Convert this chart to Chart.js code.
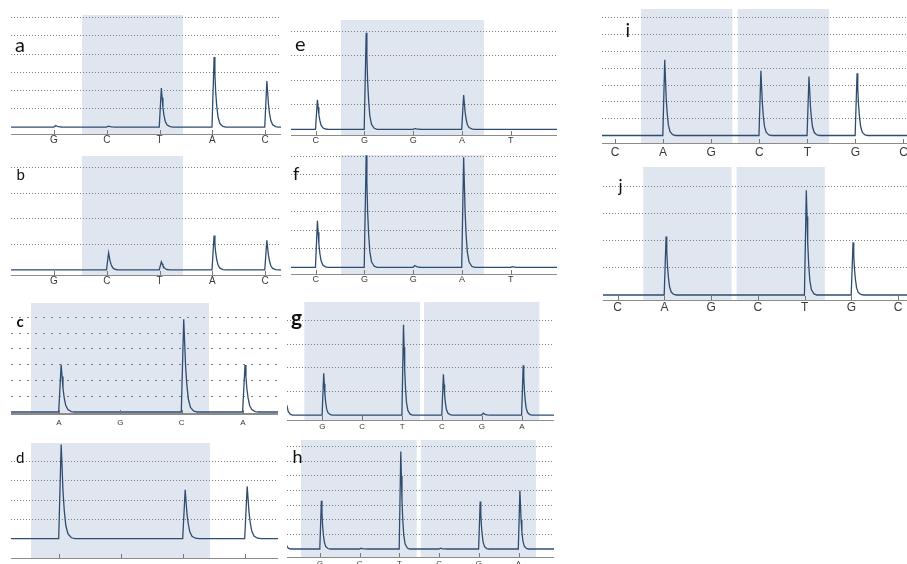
<!DOCTYPE html>
<html lang="en">
<head>
  <meta charset="UTF-8">
  <title>Pyrograms a-j</title>
  <script src="https://cdn.jsdelivr.net/npm/chart.js"></script>
  <style>
    html, body { margin: 0; padding: 0; background: #fff; width: 907px; height: 564px; overflow: hidden; }
    #fig { position: relative; width: 907px; height: 564px; overflow: hidden; }
    #fig canvas { position: absolute; }
    .tag { position: absolute; font-family: Lato, sans-serif; color: #111; line-height: 1; }
  </style>
</head>
<body>
  <div id="fig"></div>

  <script>
    // dispensation order, peak heights (grid units) and shaded spans (in base positions)
    const basesA = ['G', 'C', 'T', 'A', 'C'];
    const peaksA = [0.08, 0.05, 2.14, 3.85, 2.53];
    const shadeA = [[0.53, 2.445]];

    const basesB = ['G', 'C', 'T', 'A', 'C'];
    const peaksB = [0, 0.67, 0.32, 1.35, 1.16];
    const shadeB = [[0.53, 2.445]];

    const basesC = ['A', 'G', 'C', 'A'];
    const peaksC = [3.0, 0, 5.87, 2.97];
    const shadeC = [[-0.457, 2.447]];

    const basesD = ['A', 'G', 'C', 'A'];
    const peaksD = [4.88, 0, 2.54, 2.71];
    const shadeD = [[-0.45, 2.435]];

    const basesE = ['C', 'G', 'G', 'A', 'T'];
    const peaksE = [1.2, 3.94, 0.03, 1.4, 0];
    const shadeE = [[0.519, 3.45]];

    const basesF = ['C', 'G', 'G', 'A', 'T'];
    const peaksF = [2.52, 6.05, 0.1, 5.95, 0.03];
    const shadeF = [[0.519, 3.45]];

    const basesG = ['G', 'C', 'T', 'C', 'G', 'A'];
    const peaksG = [1.77, 0, 3.83, 1.73, 0.08, 2.11];
    const prevG = 3.0;
    const shadeG = [[-0.451, 2.449], [2.549, 5.44]];

    const basesH = ['G', 'C', 'T', 'C', 'G', 'A'];
    const peaksH = [3.29, 0.05, 6.66, 0.05, 3.24, 3.97];
    const prevH = 6.0;
    const shadeH = [[-0.479, 2.436], [2.537, 5.44]];

    const basesI = ['C', 'A', 'G', 'C', 'T', 'G', 'C'];
    const peaksI = [0, 4.5, 0, 3.85, 3.5, 3.7, 0];
    const shadeI = [[0.541, 2.441], [2.554, 4.454]];

    const basesJ = ['C', 'A', 'G', 'C', 'T', 'G', 'C'];
    const peaksJ = [0, 2.16, 0, 0, 3.86, 1.94, 0];
    const shadeJ = [[0.547, 2.437], [2.544, 4.432]];

    // shape of one pyrogram peak: [offset in base positions, fraction of height]
    const peakShape = [[-0.005, 0], [0.035, 1], [0.05, 0.75], [0.065, 0.5], [0.085, 0.3],
                       [0.11, 0.14], [0.145, 0.05], [0.2, 0.01], [0.26, 0]];

    const panels = [
      { tag: 'a', bases: basesA, peaks: peaksA, shade: shadeA, box: [11, 281, 15, 134], x: [-0.815, 4.303], y: [-0.38, 6.15], fs: 10, pad: 0, tagPos: [15, 34, 20, false] },
      { tag: 'b', bases: basesB, peaks: peaksB, shade: shadeB, box: [11, 281, 156, 275], x: [-0.815, 4.303], y: [-0.2, 4.47], fs: 10, pad: 0, tagPos: [16.5, 167, 15, false] },
      { tag: 'c', bases: basesC, peaks: peaksC, shade: shadeC, box: [11, 278, 303, 414], x: [-0.783, 3.573], y: [-0.127, 6.9], fs: 8, pad: 4, tagPos: [16.5, 314, 15, true], dash: [2, 6], axisW: 2 },
      { tag: 'd', bases: basesD, peaks: peaksD, shade: shadeD, box: [11, 278, 443, 558], x: [-0.774, 3.532], y: [-1.0, 4.96], fs: 8, pad: 4, tagPos: [16, 450, 15, false] },
      { tag: 'e', bases: basesE, peaks: peaksE, shade: shadeE, box: [291, 557, 20, 135], x: [-0.507, 4.95], y: [-0.233, 4.46], fs: 9, pad: 0, tagPos: [295, 33, 20, false] },
      { tag: 'f', bases: basesF, peaks: peaksF, shade: shadeF, box: [291, 557, 155, 274], x: [-0.507, 4.95], y: [-0.36, 6.07], fs: 9, pad: 0.5, tagPos: [293, 164, 18, false] },
      { tag: 'g', bases: basesG, peaks: peaksG, prev: prevG, shade: shadeG, box: [287, 554, 302, 420], x: [-0.885, 5.807], y: [-0.21, 4.79], fs: 8, pad: 2, tagPos: [291, 305.7, 21, true] },
      { tag: 'h', bases: basesH, peaks: peaksH, prev: prevH, shade: shadeH, box: [287, 554, 440, 557], x: [-0.831, 5.894], y: [-0.546, 7.44], fs: 8, pad: 2, tagPos: [292.5, 447.3, 18, false] },
      { tag: 'i', bases: basesI, peaks: peaksI, shade: shadeI, box: [602, 915, 9, 143], x: [-0.27, 6.24], y: [-0.446, 7.52], fs: 12, pad: 2, tagPos: [625.5, 20.4, 19, false] },
      { tag: 'j', bases: basesJ, peaks: peaksJ, shade: shadeJ, box: [603, 915, 167, 300], x: [-0.314, 6.36], y: [-0.185, 4.72], fs: 12, pad: 0, tagPos: [618.5, 176.6, 17, false] }
    ];

    const XH = 24;

    function tracePoints(p) {
      const pts = [{ x: p.x[0] - 1.5, y: 0 }];
      const addPeak = (pos, h) => peakShape.forEach(([dx, f]) => pts.push({ x: pos + dx, y: h * f }));
      if (p.prev) addPeak(-1, p.prev);
      p.peaks.forEach((h, i) => { if (h) addPeak(i, h); });
      pts.push({ x: p.x[1] + 1, y: 0 });
      return pts;
    }

    const shadePlugin = {
      id: 'shade',
      beforeDraw(chart, args, opts) {
        const { ctx, chartArea: a, scales: { x } } = chart;
        ctx.save();
        ctx.fillStyle = '#e0e6ef';
        opts.spans.forEach(([s, e]) => {
          const x0 = x.getPixelForValue(s), x1 = x.getPixelForValue(e);
          ctx.fillRect(x0, a.top, x1 - x0, a.bottom - a.top);
        });
        ctx.restore();
      },
      afterDraw(chart) {
        const { ctx, chartArea: a, scales: { x } } = chart;
        ctx.save();
        ctx.strokeStyle = '#777';
        ctx.lineWidth = 1;
        x.ticks.forEach(t => {
          const px = Math.round(x.getPixelForValue(t.value)) + 0.5;
          ctx.beginPath();
          ctx.moveTo(px, a.bottom - 4);
          ctx.lineTo(px, a.bottom);
          ctx.stroke();
        });
        ctx.restore();
      }
    };

    const fig = document.getElementById('fig');

    panels.forEach(p => {
      const [left, right, top, axis] = p.box;
      const cv = document.createElement('canvas');
      cv.width = right - left;
      cv.height = axis - top + XH;
      cv.style.left = left + 'px';
      cv.style.top = top + 'px';
      fig.appendChild(cv);

      const grid = [1, 2, 3, 4, 5, 6, 7].filter(v => v < p.y[1] - 0.05);

      new Chart(cv.getContext('2d'), {
        type: 'line',
        data: {
          datasets: [{
            data: tracePoints(p),
            borderColor: '#2f4d70',
            borderWidth: 1.3,
            pointRadius: 0,
            tension: 0,
            fill: false
          }]
        },
        options: {
          responsive: false,
          animation: false,
          events: [],
          layout: { padding: 0 },
          plugins: { legend: { display: false }, tooltip: { enabled: false }, shade: { spans: p.shade } },
          scales: {
            x: {
              type: 'linear',
              min: p.x[0],
              max: p.x[1],
              afterBuildTicks: s => { s.ticks = p.bases.map((b, i) => ({ value: i })); },
              afterFit: s => { s.height = XH; },
              ticks: {
                callback: v => p.bases[v],
                font: { family: 'Liberation Sans', size: p.fs },
                color: '#3a3a3a',
                padding: p.pad,
                maxRotation: 0,
                autoSkip: false
              },
              grid: { display: false, drawTicks: false },
              border: { display: true, color: '#8c8c8c', width: p.axisW || 1 }
            },
            y: {
              min: p.y[0],
              max: p.y[1],
              afterBuildTicks: s => { s.ticks = grid.map(v => ({ value: v })); },
              ticks: { display: false },
              grid: { color: '#7d7d7d', lineWidth: 1, drawTicks: false },
              border: { display: false, dash: p.dash || [1, 2] }
            }
          }
        },
        plugins: [shadePlugin]
      });

      const t = document.createElement('div');
      t.className = 'tag';
      t.textContent = p.tag;
      t.style.left = p.tagPos[0] + 'px';
      t.style.top = p.tagPos[1] + 'px';
      t.style.fontSize = p.tagPos[2] + 'px';
      t.style.fontWeight = p.tagPos[3] ? 'bold' : 'normal';
      fig.appendChild(t);
    });
  </script>
</body>
</html>
